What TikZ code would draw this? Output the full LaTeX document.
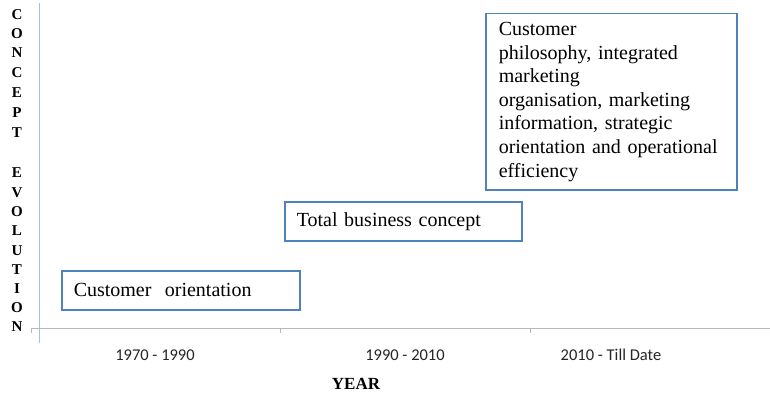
\documentclass[tikz,border=0pt]{standalone}
\usepackage{fontspec}
\setmainfont{Liberation Serif}
\newfontfamily\calib{Carlito}
\begin{document}
\begin{tikzpicture}[x=1pt,y=-1pt,
  boxstyle/.style={draw=boxblue, line width=1.5pt, anchor=north west, align=left,
    inner ysep=2pt, font=\fontsize{20}{23.6}\selectfont},
  vletter/.style={font=\fontsize{15}{15}\bfseries\selectfont, inner sep=0pt},
  ticklabel/.style={font=\calib\fontsize{16.5}{18}\selectfont, text=black!85, inner sep=0pt},
  axisline/.style={draw=black!28, line width=1pt}]
\definecolor{boxblue}{HTML}{4F81BD}
\definecolor{yblue}{HTML}{9DC3E6}
\useasboundingbox (0,0) rectangle (770,393);
\fill[white] (0,0) rectangle (770,393);
% y axis (blue line)
\coordinate (ytop) at (39,3);
\coordinate (ybot) at (39,343);
\draw[yblue, line width=1pt] (ytop) -- (ybot);
% x axis
\coordinate (x0) at (31,328);
\coordinate (xend) at (770,328);
\coordinate (t1) at (280,328);
\coordinate (t2) at (530,328);
\draw[axisline] (x0) -- (xend);
\draw[axisline] (x0) -- ++(0,5);
\draw[axisline] (t1) -- ++(0,5);
\draw[axisline] (t2) -- ++(0,5);
% vertical letters
\foreach \l/\yy [count=\i] in {C/15,O/34,N/53,C/73,E/93,P/113,T/133,E/173,V/193,O/212,L/231,U/251,T/270,I/289,O/308,N/327}
  \node[vletter] (v\i) at (17,\yy) {\l};
% tick labels
\node[ticklabel] (lab1) at (155,355) {1970 - 1990};
\node[ticklabel] (lab2) at (405,355) {1990 - 2010};
\node[ticklabel] (lab3) at (611,355) {2010 - Till Date};
\node[font=\fontsize{17}{18}\bfseries\selectfont, inner sep=0pt] (year) at (356,384) {YEAR};
% boxes
\node[boxstyle, minimum width=238pt, minimum height=39pt, text width=214pt, inner xsep=12pt] (b1) at (61,270) {Customer\ \ orientation};
\node[boxstyle, minimum width=237pt, minimum height=39pt, text width=213pt, inner xsep=12pt] (b2) at (284,201) {Total business concept};
\node[boxstyle, minimum width=251pt, minimum height=176pt, text width=225pt, inner xsep=13pt] (b3) at (485,13) {Customer\\philosophy, integrated\\marketing\\organisation, marketing\\information, strategic\\orientation and operational\\efficiency};
\end{tikzpicture}
\end{document}
